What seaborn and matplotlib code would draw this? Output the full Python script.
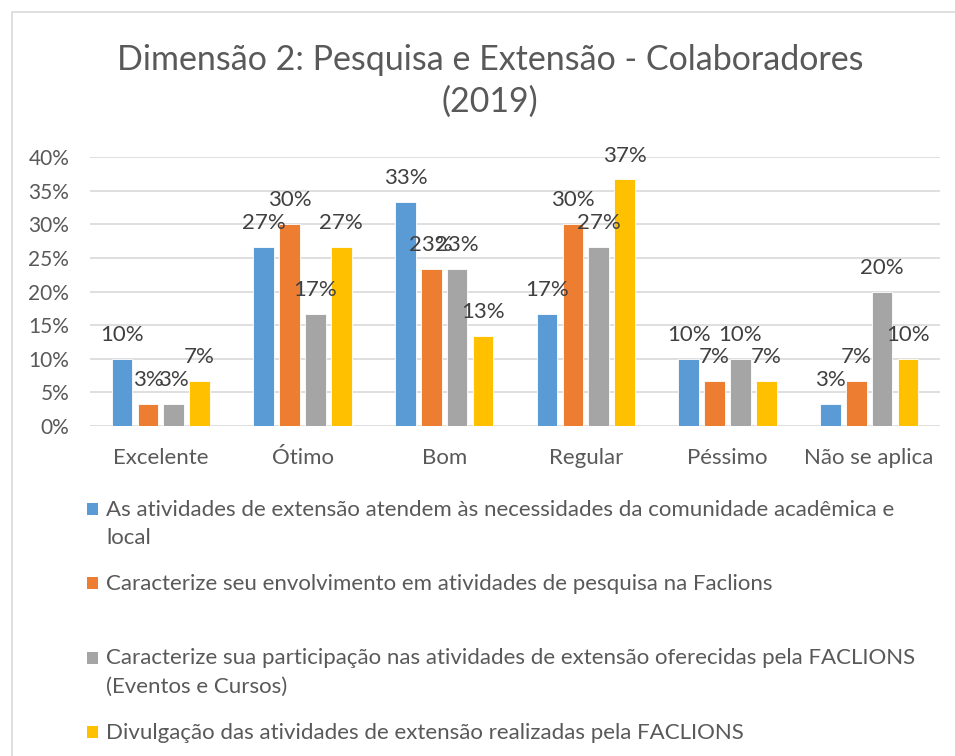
import pandas as pd
import matplotlib
matplotlib.use("Agg")
import matplotlib.pyplot as plt
import seaborn as sns
from matplotlib.patches import Rectangle
from matplotlib.ticker import PercentFormatter, MultipleLocator


# DATA
categorias = ['Excelente', 'Ótimo', 'Bom', 'Regular', 'Péssimo', 'Não se aplica']

series = [
    'As atividades de extensão atendem às necessidades da comunidade acadêmica e\nlocal',
    'Caracterize seu envolvimento em atividades de pesquisa na Faclions',
    'Caracterize sua participação nas atividades de extensão oferecidas pela FACLIONS\n(Eventos e Cursos)',
    'Divulgação das atividades de extensão realizadas pela FACLIONS',
]

atividades_extensao = [10.0, 26.67, 33.33, 16.67, 10.0, 3.33]
envolvimento_pesquisa = [3.33, 30.0, 23.33, 30.0, 6.67, 6.67]
participacao_extensao = [3.33, 16.67, 23.33, 26.67, 10.0, 20.0]
divulgacao = [6.67, 26.67, 13.33, 36.67, 6.67, 10.0]

cores = ['#5B9BD5', '#ED7D31', '#A5A5A5', '#FFC000']


# long table for seaborn
valores = [atividades_extensao, envolvimento_pesquisa, participacao_extensao, divulgacao]
rows = []
for s, vals in zip(series, valores):
    for c, v in zip(categorias, vals):
        rows.append({'categoria': c, 'serie': s, 'valor': v})
df = pd.DataFrame(rows)


# PLOT
sns.set_style('white')
plt.rcParams['font.family'] = ['Lato', 'DejaVu Sans']

texto = '#595959'
W, H = 955, 756

fig = plt.figure(figsize=(9.55, 7.56), dpi=100)
ax = fig.add_axes([90 / W, 1 - 426 / H, 850 / W, 269 / H])

sns.barplot(
    data=df, x='categoria', y='valor', hue='serie',
    order=categorias, hue_order=series, palette=cores, saturation=1,
    width=0.73, gap=0.2, legend=False, ax=ax,
    edgecolor='white', linewidth=0.6,
)

for cont in ax.containers:
    ax.bar_label(
        cont, labels=[f'{v:.0f}%' for v in cont.datavalues],
        padding=10, fontsize=16, color='#404040', clip_on=False,
    )

ax.set_ylim(0, 40)
ax.yaxis.set_major_locator(MultipleLocator(5))
ax.yaxis.set_major_formatter(PercentFormatter(100, decimals=0))
ax.grid(axis='y', color='#D9D9D9', linewidth=1.2)
ax.set_axisbelow(True)
for sp in ax.spines.values():
    sp.set_visible(False)
ax.tick_params(axis='y', length=0, pad=15, labelsize=15, labelcolor=texto)
ax.tick_params(axis='x', length=0, pad=16, labelsize=16, labelcolor=texto)
ax.set_xlabel('')
ax.set_ylabel('')

fig.text(0.513, 1 - 81 / H, 'Dimensão 2: Pesquisa e Extensão - Colaboradores\n(2019)',
         ha='center', va='center', fontsize=24.5, color=texto, linespacing=1.35)

# legend below the plot, one slot per entry (as in the original layout)
passo = 28.5
for i, (lab, cor) in enumerate(zip(series, cores)):
    yc = 509 + 74.3 * i
    n = lab.count('\n')
    fig.patches.append(Rectangle((87 / W, 1 - (yc + 6) / H), 11 / W, 12 / H,
                                 transform=fig.transFigure, facecolor=cor, edgecolor='none'))
    fig.text(106 / W, 1 - (yc + 7 + passo * n) / H, lab, ha='left', va='baseline',
             fontsize=16, color=texto, linespacing=1.55)

# chart border
fig.patches.append(Rectangle((12 / W, -0.1), 1.1, 1 - 12 / H + 0.1, transform=fig.transFigure,
                             fill=False, edgecolor='#D9D9D9', linewidth=1.2))

plt.savefig('out.png', dpi=100)
